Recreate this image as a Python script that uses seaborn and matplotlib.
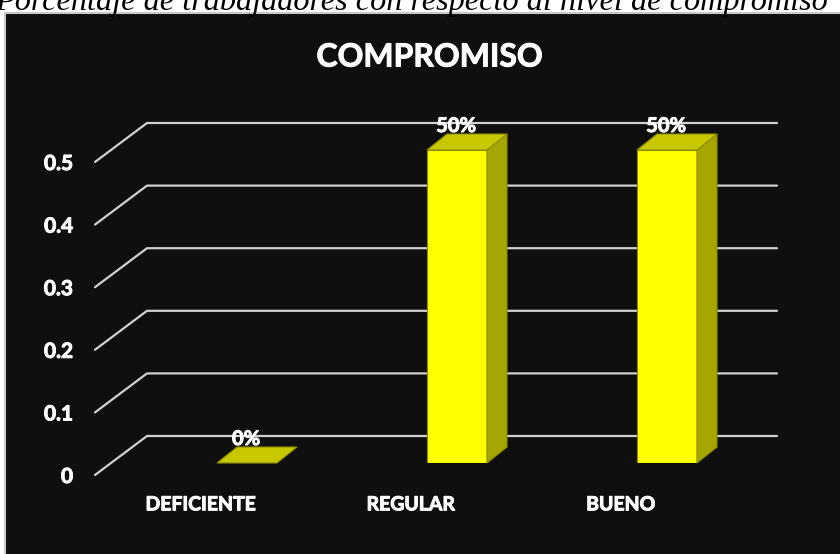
import matplotlib
matplotlib.use("Agg")
import matplotlib.pyplot as plt
import seaborn as sns
import pandas as pd
from matplotlib.transforms import ScaledTranslation
from matplotlib.patches import Polygon, Rectangle
from matplotlib.lines import Line2D
import matplotlib.patheffects as pe

categories = ["DEFICIENTE", "REGULAR", "BUENO"]
values = [0.0, 0.5, 0.5]
value_labels = ["0%", "50%", "50%"]
yticks = [0, 0.1, 0.2, 0.3, 0.4, 0.5]
ytick_labels = ["0", "0.1", "0.2", "0.3", "0.4", "0.5"]
title = "COMPROMISO"
caption = "Porcentaje de trabajadores con respecto al nivel de compromiso"

sns.set_theme(style="white")
plt.rcParams["font.family"] = ["Lato", "DejaVu Sans"]

W, H = 840, 554
fig = plt.figure(figsize=(W / 100, H / 100), dpi=100, facecolor="white")

BG = "#0f0f0f"
FRONT = "#ffff00"
TOP = "#c8c800"
SIDE = "#a6a600"
EDGE = "#8c8c00"
GRID = "#d0d0d0"
THICK = [pe.withStroke(linewidth=0.7, foreground="white")]

# chart area background
fig.patches.append(Rectangle((5 / W, -0.01), (W - 5) / W + 0.02, (H - 13) / H + 0.01,
                             transform=fig.transFigure, facecolor=BG,
                             edgecolor="#c8c8c8", linewidth=1.5, zorder=0))

ax = fig.add_axes([142 / W, 91 / H, 630 / W, 375.6 / H])
ax.set_facecolor("none")
df = pd.DataFrame({"cat": categories, "val": values})
sns.barplot(data=df, x="cat", y="val", ax=ax, color=FRONT, saturation=1,
            width=60 / 210, edgecolor=EDGE, linewidth=0.8, zorder=5)
ax.set_xlim(-0.5, 2.5)
ax.set_ylim(0, 0.6)
for s in ax.spines.values():
    s.set_visible(False)
ax.set_xlabel("")
ax.set_ylabel("")
ax.set_yticks(yticks)
ax.set_yticklabels(ytick_labels)
ax.tick_params(axis="y", length=0, pad=49.7, labelsize=15, labelcolor="white")
ax.tick_params(axis="x", length=0, pad=24, labelsize=14, labelcolor="white")
for lab in ax.get_yticklabels():
    lab.set_fontweight("bold")
    lab.set_path_effects(THICK)
    lab.set_transform(lab.get_transform() + ScaledTranslation(0, -0.12, fig.dpi_scale_trans))
for lab in ax.get_xticklabels():
    lab.set_fontweight("bold")
    lab.set_path_effects(THICK)
    lab.set_transform(lab.get_transform() + ScaledTranslation(-0.46, 0, fig.dpi_scale_trans))

to_fig = fig.transFigure.inverted()


def px(xd, yd, dx, dy):
    p = ax.transData.transform((xd, yd))
    return to_fig.transform((p[0] + dx, p[1] + dy))


# perspective gridlines (back wall + left wall diagonals)
for v in yticks:
    a = px(-0.5, v, -47, -12)
    b = px(-0.5, v, 5, 27)
    c = px(2.5, v, 5, 27)
    fig.add_artist(Line2D([a[0], b[0], c[0]], [a[1], b[1], c[1]],
                          transform=fig.transFigure, color=GRID, lw=1.6, zorder=1))

# 3D sides and tops of bars
DX, DY = 20, 16
for bar in ax.patches:
    x0 = bar.get_x()
    x1 = x0 + bar.get_width()
    h = bar.get_height()
    if h > 0:
        side = [px(x1, 0, 0, 0), px(x1, 0, DX, DY), px(x1, h, DX, DY), px(x1, h, 0, 0)]
        fig.patches.append(Polygon(side, closed=True, transform=fig.transFigure,
                                   facecolor=SIDE, edgecolor=EDGE, lw=0.8, zorder=4))
    top = [px(x0, h, 0, 0), px(x1, h, 0, 0), px(x1, h, DX, DY), px(x0, h, DX, DY)]
    fig.patches.append(Polygon(top, closed=True, transform=fig.transFigure,
                               facecolor=TOP, edgecolor=EDGE, lw=0.8, zorder=4))
ax.set_zorder(3)

for i, (v, lab) in enumerate(zip(values, value_labels)):
    ax.annotate(lab, (i, v), xytext=(-1 * 0.72, 24 * 0.72), textcoords="offset points",
                ha="center", va="center", color="white", fontsize=14.5,
                fontweight="bold", zorder=10, annotation_clip=False,
                path_effects=THICK)

fig.text(430 / W, 1 - 57 / H, title, ha="center", va="center", color="white",
         fontsize=23, fontweight="bold", path_effects=THICK)
fig.text(412 / W, 1 - 10 / H, caption, ha="center", va="baseline", color="black",
         fontsize=23.2, fontstyle="italic", family=["Liberation Serif"])

fig.savefig("out.png", dpi=100, facecolor="white")
